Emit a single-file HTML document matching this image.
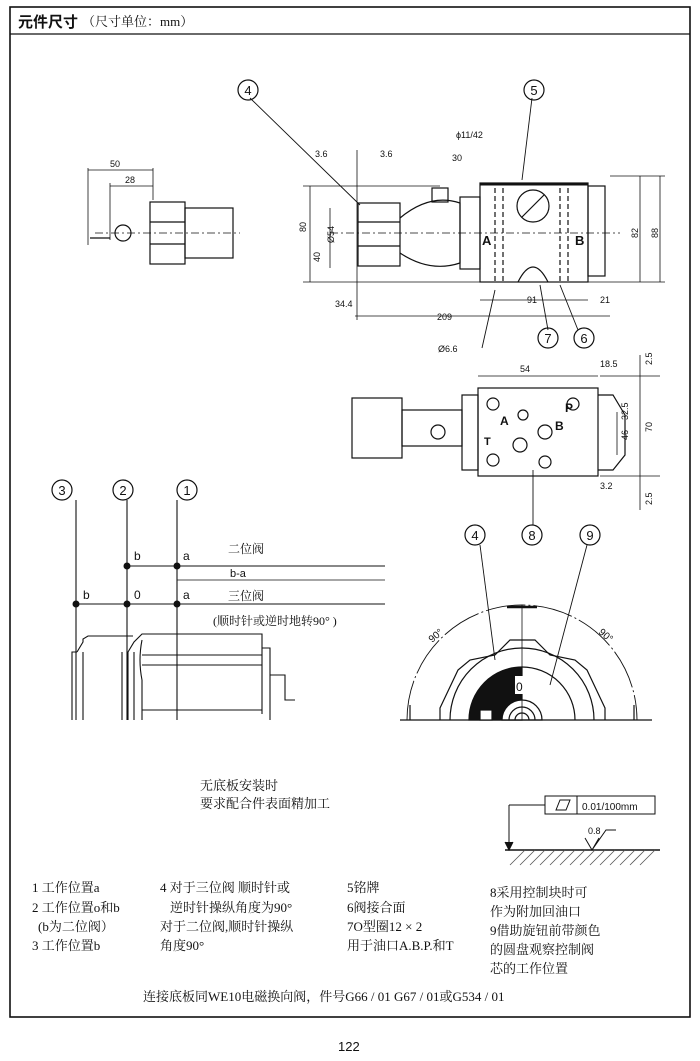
<!DOCTYPE html>
<html><head><meta charset="utf-8"><style>
body{margin:0;background:#fff;}
svg{display:block}
text{font-family:"Liberation Sans","Noto Sans CJK SC",sans-serif;fill:#111}
.c{font-family:"Liberation Serif","Noto Serif CJK SC","Noto Sans CJK SC",serif}
</style></head><body>
<svg width="700" height="1061" viewBox="0 0 700 1061" xmlns="http://www.w3.org/2000/svg" stroke="#111" fill="none" stroke-width="1.3">
<rect x="10" y="7" width="680" height="1010" stroke-width="1.6"/>
<line x1="10" y1="34" x2="690" y2="34" stroke-width="1.3"/>
<text x="18" y="27" font-size="15" font-weight="bold" stroke="none">元件尺寸</text>
<text x="82" y="26" font-size="13" stroke="none" class="c">（尺寸单位：mm）</text>

<!-- left small view -->
<g stroke-width="1.2">
<rect x="150" y="202" width="35" height="62"/>
<line x1="150" y1="222" x2="185" y2="222"/><line x1="150" y1="244" x2="185" y2="244"/>
<rect x="185" y="208" width="48" height="50"/>
<line x1="95" y1="233" x2="240" y2="233" stroke-dasharray="8 3 2 3" stroke-width="0.8"/>
<path d="M90 238 l20 0 M115 233 a8 8 0 1 1 16 0 a8 8 0 1 1 -16 0"/>
<line x1="88" y1="168" x2="88" y2="245" stroke-width="0.8"/>
<line x1="110" y1="183" x2="110" y2="240" stroke-width="0.8"/>
<line x1="153" y1="168" x2="153" y2="200" stroke-width="0.8"/>
<line x1="88" y1="170" x2="153" y2="170" stroke-width="0.8"/>
<line x1="110" y1="186" x2="153" y2="186" stroke-width="0.8"/>
</g>
<text x="110" y="167" font-size="9" stroke="none">50</text>
<text x="125" y="183" font-size="9" stroke="none">28</text>

<!-- top right view -->
<g stroke-width="1.2">
<rect x="358" y="203" width="42" height="63"/>
<line x1="358" y1="222" x2="400" y2="222"/><line x1="358" y1="246" x2="400" y2="246"/>
<path d="M400 218 q30 -25 60 -15 l0 60 q-30 10 -60 -10"/>
<rect x="432" y="188" width="16" height="14"/>
<rect x="460" y="197" width="20" height="72"/>
<rect x="480" y="183" width="108" height="99"/>
<line x1="480" y1="184" x2="588" y2="184" stroke-width="3"/>
<rect x="588" y="186" width="17" height="90"/>
<circle cx="533" cy="206" r="16"/>
<line x1="522" y1="217" x2="544" y2="195"/>
<path d="M518 282 q15 -30 30 0"/>
<line x1="495" y1="188" x2="495" y2="282" stroke-dasharray="5 3"/>
<line x1="503" y1="188" x2="503" y2="282" stroke-dasharray="5 3"/>
<line x1="560" y1="188" x2="560" y2="282" stroke-dasharray="5 3"/>
<line x1="568" y1="188" x2="568" y2="282" stroke-dasharray="5 3"/>
<line x1="303" y1="282" x2="665" y2="282" stroke-width="0.8"/>
<line x1="303" y1="186" x2="440" y2="186" stroke-width="0.8"/>
<line x1="330" y1="233" x2="620" y2="233" stroke-dasharray="8 3 2 3" stroke-width="0.8"/>
<line x1="357" y1="150" x2="357" y2="320" stroke-width="0.8"/>
<line x1="310" y1="186" x2="310" y2="282" stroke-width="0.8"/>
<line x1="330" y1="208" x2="330" y2="268" stroke-width="0.8"/>
<line x1="355" y1="316" x2="610" y2="316" stroke-width="0.8"/>
<line x1="480" y1="300" x2="588" y2="300" stroke-width="0.8"/>
<line x1="640" y1="176" x2="640" y2="282" stroke-width="0.8"/>
<line x1="660" y1="176" x2="660" y2="282" stroke-width="0.8"/>
<line x1="610" y1="176" x2="665" y2="176" stroke-width="0.8"/>
<line x1="250" y1="98" x2="360" y2="205" stroke-width="0.9"/>
<line x1="532" y1="98" x2="522" y2="180" stroke-width="0.9"/>
<line x1="495" y1="290" x2="482" y2="348" stroke-width="0.9"/>
<line x1="540" y1="285" x2="548" y2="330" stroke-width="0.9"/>
<line x1="560" y1="285" x2="578" y2="330" stroke-width="0.9"/>
</g>
<g stroke="none" font-size="9">
<text x="315" y="157">3.6</text><text x="380" y="157">3.6</text><text x="452" y="161">30</text>
<text x="456" y="138">ϕ11/42</text>
<text x="482" y="245" font-size="13" font-weight="bold">A</text>
<text x="575" y="245" font-size="13" font-weight="bold">B</text>
<text x="527" y="303">91</text><text x="600" y="303">21</text>
<text x="335" y="307">34.4</text><text x="437" y="320">209</text>
<text x="438" y="352">Ø6.6</text>
<text transform="translate(306 232) rotate(-90)">80</text>
<text transform="translate(320 262) rotate(-90)">40</text>
<text transform="translate(334 243) rotate(-90)">Ø54</text>
<text transform="translate(638 238) rotate(-90)">82</text>
<text transform="translate(658 238) rotate(-90)">88</text>
</g>

<!-- circles -->
<g stroke-width="1.2">
<circle cx="248" cy="90" r="10"/><circle cx="534" cy="90" r="10"/>
<circle cx="548" cy="338" r="10"/><circle cx="584" cy="338" r="10"/>
<circle cx="62" cy="490" r="10"/><circle cx="123" cy="490" r="10"/><circle cx="187" cy="490" r="10"/>
<circle cx="475" cy="535" r="10"/><circle cx="532" cy="535" r="10"/><circle cx="590" cy="535" r="10"/>
</g>
<g stroke="none" font-size="13" text-anchor="middle">
<text x="248" y="95">4</text><text x="534" y="95">5</text><text x="548" y="343">7</text><text x="584" y="343">6</text>
<text x="62" y="495">3</text><text x="123" y="495">2</text><text x="187" y="495">1</text>
<text x="475" y="540">4</text><text x="532" y="540">8</text><text x="590" y="540">9</text>
</g>

<!-- middle view -->
<g stroke-width="1.2">
<rect x="352" y="398" width="50" height="60"/>
<rect x="402" y="410" width="60" height="36"/>
<circle cx="438" cy="432" r="7"/>
<rect x="462" y="395" width="16" height="75"/>
<rect x="478" y="388" width="120" height="88"/>
<circle cx="493" cy="404" r="6"/><circle cx="573" cy="404" r="6"/>
<circle cx="493" cy="460" r="6"/><circle cx="545" cy="462" r="6"/>
<circle cx="523" cy="415" r="5"/><circle cx="520" cy="445" r="7"/><circle cx="545" cy="432" r="7"/>
<path d="M598 395 l15 0 l12 20 l0 40 l-12 15 l-15 0"/>
<line x1="478" y1="376" x2="598" y2="376" stroke-width="0.8"/>
<line x1="600" y1="376" x2="660" y2="376" stroke-width="0.8"/>
<line x1="600" y1="476" x2="660" y2="476" stroke-width="0.8"/>
<line x1="640" y1="355" x2="640" y2="510" stroke-width="0.8"/>
<line x1="617" y1="412" x2="617" y2="455" stroke-width="0.8"/>
<line x1="533" y1="470" x2="533" y2="525" stroke-width="0.9"/>
</g>
<g stroke="none" font-size="9">
<text x="520" y="372">54</text><text x="600" y="367">18.5</text>
<text x="500" y="425" font-size="12" font-weight="bold">A</text><text x="565" y="412" font-size="12" font-weight="bold">P</text>
<text x="555" y="430" font-size="12" font-weight="bold">B</text><text x="484" y="445" font-size="11" font-weight="bold">T</text>
<text x="600" y="489">3.2</text>
<text transform="translate(652 365) rotate(-90)">2.5</text>
<text transform="translate(652 432) rotate(-90)">70</text>
<text transform="translate(628 440) rotate(-90)">46</text>
<text transform="translate(628 420) rotate(-90)">32.5</text>
<text transform="translate(652 505) rotate(-90)">2.5</text>
</g>

<!-- lower left diagram -->
<g stroke-width="1.1">
<line x1="76" y1="500" x2="76" y2="720"/>
<line x1="127" y1="500" x2="127" y2="720"/>
<line x1="177" y1="500" x2="177" y2="720"/>
<line x1="127" y1="566" x2="385" y2="566"/>
<line x1="177" y1="580" x2="385" y2="580" stroke-width="0.8"/>
<line x1="76" y1="604" x2="385" y2="604"/>
<path d="M72 720 l0 -68 l5 0 M83 720 l0 -68 M77 652 l6 -10 l0 -3 l5 -3 l45 0"/>
<path d="M122 720 l0 -68 M128 720 l0 -68 l6 -10 l8 -8 l120 0 l0 80 M134 720 l0 -68"/>
<path d="M142 640 q-4 20 0 40 l0 40 M142 655 l120 0 M142 665 l120 0 M142 710 l120 0"/>
<path d="M262 648 l8 0 l0 72 M270 675 l15 0 l0 25 l10 0"/>
</g>
<g fill="#111" stroke="none">
<circle cx="127" cy="566" r="3.5"/><circle cx="177" cy="566" r="3.5"/>
<circle cx="76" cy="604" r="3.5"/><circle cx="127" cy="604" r="3.5"/><circle cx="177" cy="604" r="3.5"/>
</g>
<g stroke="none" font-size="12">
<text x="134" y="560">b</text><text x="183" y="560">a</text>
<text x="83" y="599">b</text><text x="134" y="599">0</text><text x="183" y="599">a</text>
<text x="228" y="553" class="c">二位阀</text><text x="230" y="577" font-size="11">b-a</text>
<text x="228" y="600" class="c">三位阀</text>
<text x="213" y="625" class="c">(顺时针或逆时地转90°  )</text>
</g>

<!-- lower right dial -->
<g stroke-width="1.2">
<path d="M407 720 A115 115 0 0 1 637 720" stroke-dasharray="40 3 2 3" stroke-width="0.9"/>
<path d="M440 720 l0 -12 l18 -38 l12 -10 l25 -5 l15 -15 l25 0 l15 15 l25 5 l12 10 l18 38 l0 12"/>
<path d="M450 720 A72 72 0 0 1 594 720"/>
<path d="M469 720 A53 53 0 0 1 522 667 L522 720 Z" fill="#111"/>
<path d="M522 667 A53 53 0 0 1 575 720"/>
<path d="M502 720 A20 20 0 0 1 542 720 Z" fill="#fff"/>
<path d="M509 720 A13 13 0 0 1 535 720"/>
<path d="M515 720 A7 7 0 0 1 529 720"/>
<line x1="400" y1="720" x2="652" y2="720"/>
<line x1="522" y1="605" x2="522" y2="720" stroke-width="0.8"/>
<rect x="480" y="710" width="12" height="10" fill="#fff"/>
<line x1="480" y1="545" x2="495" y2="660" stroke-width="0.9"/>
<line x1="587" y1="545" x2="550" y2="685" stroke-width="0.9"/>
<path d="M410 705 l0 15 M634 705 l0 15" stroke-width="1.2"/>
<path d="M507 607 l30 0" stroke-width="2.5"/>
</g>
<rect x="515" y="676" width="12" height="18" fill="#fff" stroke="none"/>
<text x="516" y="691" font-size="12" stroke="none">0</text>
<text transform="translate(432 643) rotate(-40)" font-size="10" stroke="none">90°</text>
<text transform="translate(598 633) rotate(40)" font-size="10" stroke="none">90°</text>

<!-- surface -->
<g stroke-width="1">
<rect x="545" y="796" width="110" height="18"/>
<line x1="577" y1="796" x2="577" y2="814"/>
<path d="M556 810 l4 -10 l10 0 l-4 10 z"/>
<line x1="509" y1="805" x2="545" y2="805"/><line x1="509" y1="805" x2="509" y2="850"/>
<path d="M505 842 l4 8 l4 -8" fill="#111"/>
<line x1="505" y1="850" x2="660" y2="850" stroke-width="1.5"/>
<path d="M585 838 l7 12 l7 -12 M592 850 l14 -20 l10 0"/>
</g>
<g stroke="#555" stroke-width="0.8">
<path d="M510 865 l15 -15 M520 865 l15 -15 M530 865 l15 -15 M540 865 l15 -15 M550 865 l15 -15 M560 865 l15 -15 M570 865 l15 -15 M580 865 l15 -15 M590 865 l15 -15 M600 865 l15 -15 M610 865 l15 -15 M620 865 l15 -15 M630 865 l15 -15 M640 865 l15 -15"/>
</g>
<text x="582" y="810" font-size="10" stroke="none">0.01/100mm</text>
<text x="588" y="834" font-size="9" stroke="none">0.8</text>

<g stroke="none" font-size="13" class="c">
<text x="200" y="790" class="c">无底板安装时</text>
<text x="200" y="808" class="c">要求配合件表面精加工</text>
<text x="32" y="892" class="c">1 工作位置a</text>
<text x="32" y="912" class="c">2 工作位置o和b</text>
<text x="38" y="931" class="c">(b为二位阀）</text>
<text x="32" y="950" class="c">3  工作位置b</text>
<text x="160" y="892" class="c">4 对于三位阀  顺时针或</text>
<text x="170" y="912" class="c">逆时针操纵角度为90°</text>
<text x="160" y="931" class="c">对于二位阀,顺时针操纵</text>
<text x="160" y="950" class="c">角度90°</text>
<text x="347" y="892" class="c">5铭牌</text>
<text x="347" y="912" class="c">6阀接合面</text>
<text x="347" y="931" class="c">7O型圈12 × 2</text>
<text x="347" y="950" class="c">用于油口A.B.P.和T</text>
<text x="490" y="897" class="c">8采用控制块时可</text>
<text x="490" y="916" class="c">作为附加回油口</text>
<text x="490" y="935" class="c">9借助旋钮前带颜色</text>
<text x="490" y="954" class="c">的圆盘观察控制阀</text>
<text x="490" y="973" class="c">芯的工作位置</text>
<text x="143" y="1001" class="c">连接底板同WE10电磁换向阀，件号G66 / 01    G67 / 01或G534 / 01</text>
</g>
<text x="338" y="1051" font-size="13" stroke="none">122</text>
</svg>
</body></html>
